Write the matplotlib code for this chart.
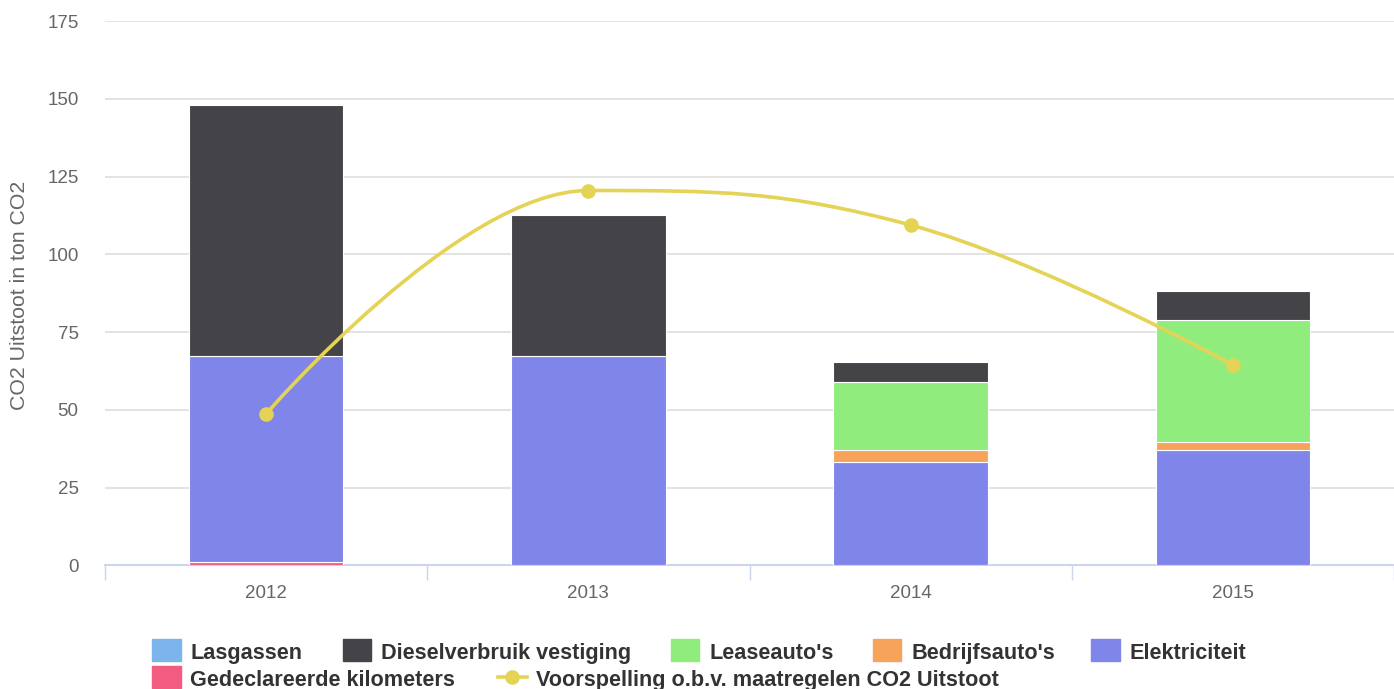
import numpy as np
import matplotlib.pyplot as plt
from matplotlib.path import Path
from matplotlib.patches import PathPatch, Rectangle
from matplotlib.lines import Line2D

plt.rcParams['font.family'] = ['Liberation Sans', 'DejaVu Sans']

# data (ton CO2)
jaren = ['2012', '2013', '2014', '2015']
lasgassen = [0, 0, 0, 0]
dieselverbruik = [80.6, 45.1, 6.6, 9.2]
leaseautos = [0, 0, 21.7, 39.4]
bedrijfsautos = [0, 0, 3.9, 2.4]
elektriciteit = [66.4, 67.4, 33.2, 37.2]
kilometers = [1.0, 0, 0, 0]
voorspelling = [48.7, 120.5, 109.4, 64.4]

# stapelvolgorde van onder naar boven
stapel = [
    ('Gedeclareerde kilometers', kilometers, '#f15c80'),
    ('Elektriciteit', elektriciteit, '#8085e9'),
    ("Bedrijfsauto's", bedrijfsautos, '#f7a35c'),
    ("Leaseauto's", leaseautos, '#90ed7d'),
    ('Dieselverbruik vestiging', dieselverbruik, '#434348'),
    ('Lasgassen', lasgassen, '#7cb5ec'),
]
lijn_kleur = '#e4d354'

W, H = 1394, 689


def fx(px):
    return px / W


def fy(py):
    return 1 - py / H


def spline_path(xs, ys, smoothing=1.5):
    """Spline zoals Highcharts die tekent (bezier door de punten)."""
    n = len(xs)
    denom = smoothing + 1
    lc = [None] * n
    rc = [None] * n
    for i in range(1, n - 1):
        x, y = xs[i], ys[i]
        lx, ly = xs[i - 1], ys[i - 1]
        nx, ny = xs[i + 1], ys[i + 1]
        lcx = (smoothing * x + lx) / denom
        lcy = (smoothing * y + ly) / denom
        rcx = (smoothing * x + nx) / denom
        rcy = (smoothing * y + ny) / denom
        corr = ((rcy - lcy) * (rcx - x)) / (rcx - lcx) + y - rcy
        lcy += corr
        rcy += corr
        if lcy > ly and lcy > y:
            lcy = max(ly, y); rcy = 2 * y - lcy
        elif lcy < ly and lcy < y:
            lcy = min(ly, y); rcy = 2 * y - lcy
        if rcy > ny and rcy > y:
            rcy = max(ny, y); lcy = 2 * y - rcy
        elif rcy < ny and rcy < y:
            rcy = min(ny, y); lcy = 2 * y - rcy
        lc[i] = (lcx, lcy)
        rc[i] = (rcx, rcy)
    verts = [(xs[0], ys[0])]
    codes = [Path.MOVETO]
    for i in range(1, n):
        c1 = rc[i - 1] or (xs[i - 1], ys[i - 1])
        c2 = lc[i] or (xs[i], ys[i])
        verts += [c1, c2, (xs[i], ys[i])]
        codes += [Path.CURVE4] * 3
    return Path(verts, codes)


fig = plt.figure(figsize=(W / 100, H / 100), dpi=100)
ax = fig.add_axes([fx(105), 123.7 / H, (W - 105) / W, (668 - 123.7) / H])

x = np.arange(len(jaren))
bodem = np.zeros(len(jaren))
for naam, waarden, kleur in stapel:
    waarden = np.array(waarden, dtype=float)
    mask = waarden > 0
    ax.bar(x[mask], waarden[mask], width=0.48, bottom=bodem[mask], color=kleur,
           edgecolor='white', linewidth=0.8, zorder=3)
    bodem += waarden

pad = spline_path(list(x.astype(float)), voorspelling)
ax.add_patch(PathPatch(pad, facecolor='none', edgecolor=lijn_kleur, lw=2.6, zorder=4))
ax.plot(x, voorspelling, linestyle='none', marker='o', markersize=9.5,
        color=lijn_kleur, zorder=5)

ax.set_xlim(-0.5, 3.5)
ax.set_ylim(0, 175)
ax.set_yticks(np.arange(0, 176, 25))
ax.yaxis.grid(True, color='#dedede', linewidth=1.2)
ax.set_axisbelow(True)

for s in ['top', 'right', 'left']:
    ax.spines[s].set_visible(False)
ax.spines['bottom'].set_color('#ccd6eb')
ax.spines['bottom'].set_linewidth(1.5)

ax.set_xticks(x)
ax.set_xticklabels(jaren)
ax.set_xticks([-0.5, 0.5, 1.5, 2.5, 3.5], minor=True)
ax.tick_params(axis='x', which='major', length=0, pad=14, labelsize=13.5, labelcolor='#666666')
ax.tick_params(axis='x', which='minor', length=11, width=1, color='#ccd6eb')
ax.tick_params(axis='y', length=0, pad=19, labelsize=13.5, labelcolor='#666666')

fig.text(fx(20), fy(295), 'CO2 Uitstoot in ton CO2', rotation=90, ha='center', va='center',
         fontsize=15.3, color='#666666')

# legenda, handmatig zoals in de Highcharts-opmaak
kleuren = {naam: kleur for naam, _, kleur in stapel}
rij1 = [('Lasgassen', 152), ('Dieselverbruik vestiging', 342.5),
        ("Leaseauto's", 670.5), ("Bedrijfsauto's", 873), ('Elektriciteit', 1091)]
for naam, x0 in rij1:
    fig.patches.append(Rectangle((fx(x0), fy(661)), 28.5 / W, 22 / H, color=kleuren[naam],
                                 transform=fig.transFigure, figure=fig))
    fig.text(fx(x0 + 38.5), fy(659.3), naam, fontsize=15.6, fontweight='bold',
             color='#333333', ha='left', va='baseline')

fig.patches.append(Rectangle((fx(152), fy(688)), 28.5 / W, 22 / H,
                             color=kleuren['Gedeclareerde kilometers'],
                             transform=fig.transFigure, figure=fig))
fig.text(fx(190.5), fy(686.3), 'Gedeclareerde kilometers', fontsize=15.6, fontweight='bold',
         color='#333333', ha='left', va='baseline')
fig.lines.append(Line2D([fx(498), fx(527)], [fy(677), fy(677)], color=lijn_kleur, lw=2.6,
                        transform=fig.transFigure, figure=fig))
fig.lines.append(Line2D([fx(512)], [fy(677)], color=lijn_kleur, marker='o', markersize=9.5,
                        transform=fig.transFigure, figure=fig))
fig.text(fx(536), fy(686.3), 'Voorspelling o.b.v. maatregelen CO2 Uitstoot', fontsize=15.6,
         fontweight='bold', color='#333333', ha='left', va='baseline')

fig.savefig('out.png', dpi=100)
